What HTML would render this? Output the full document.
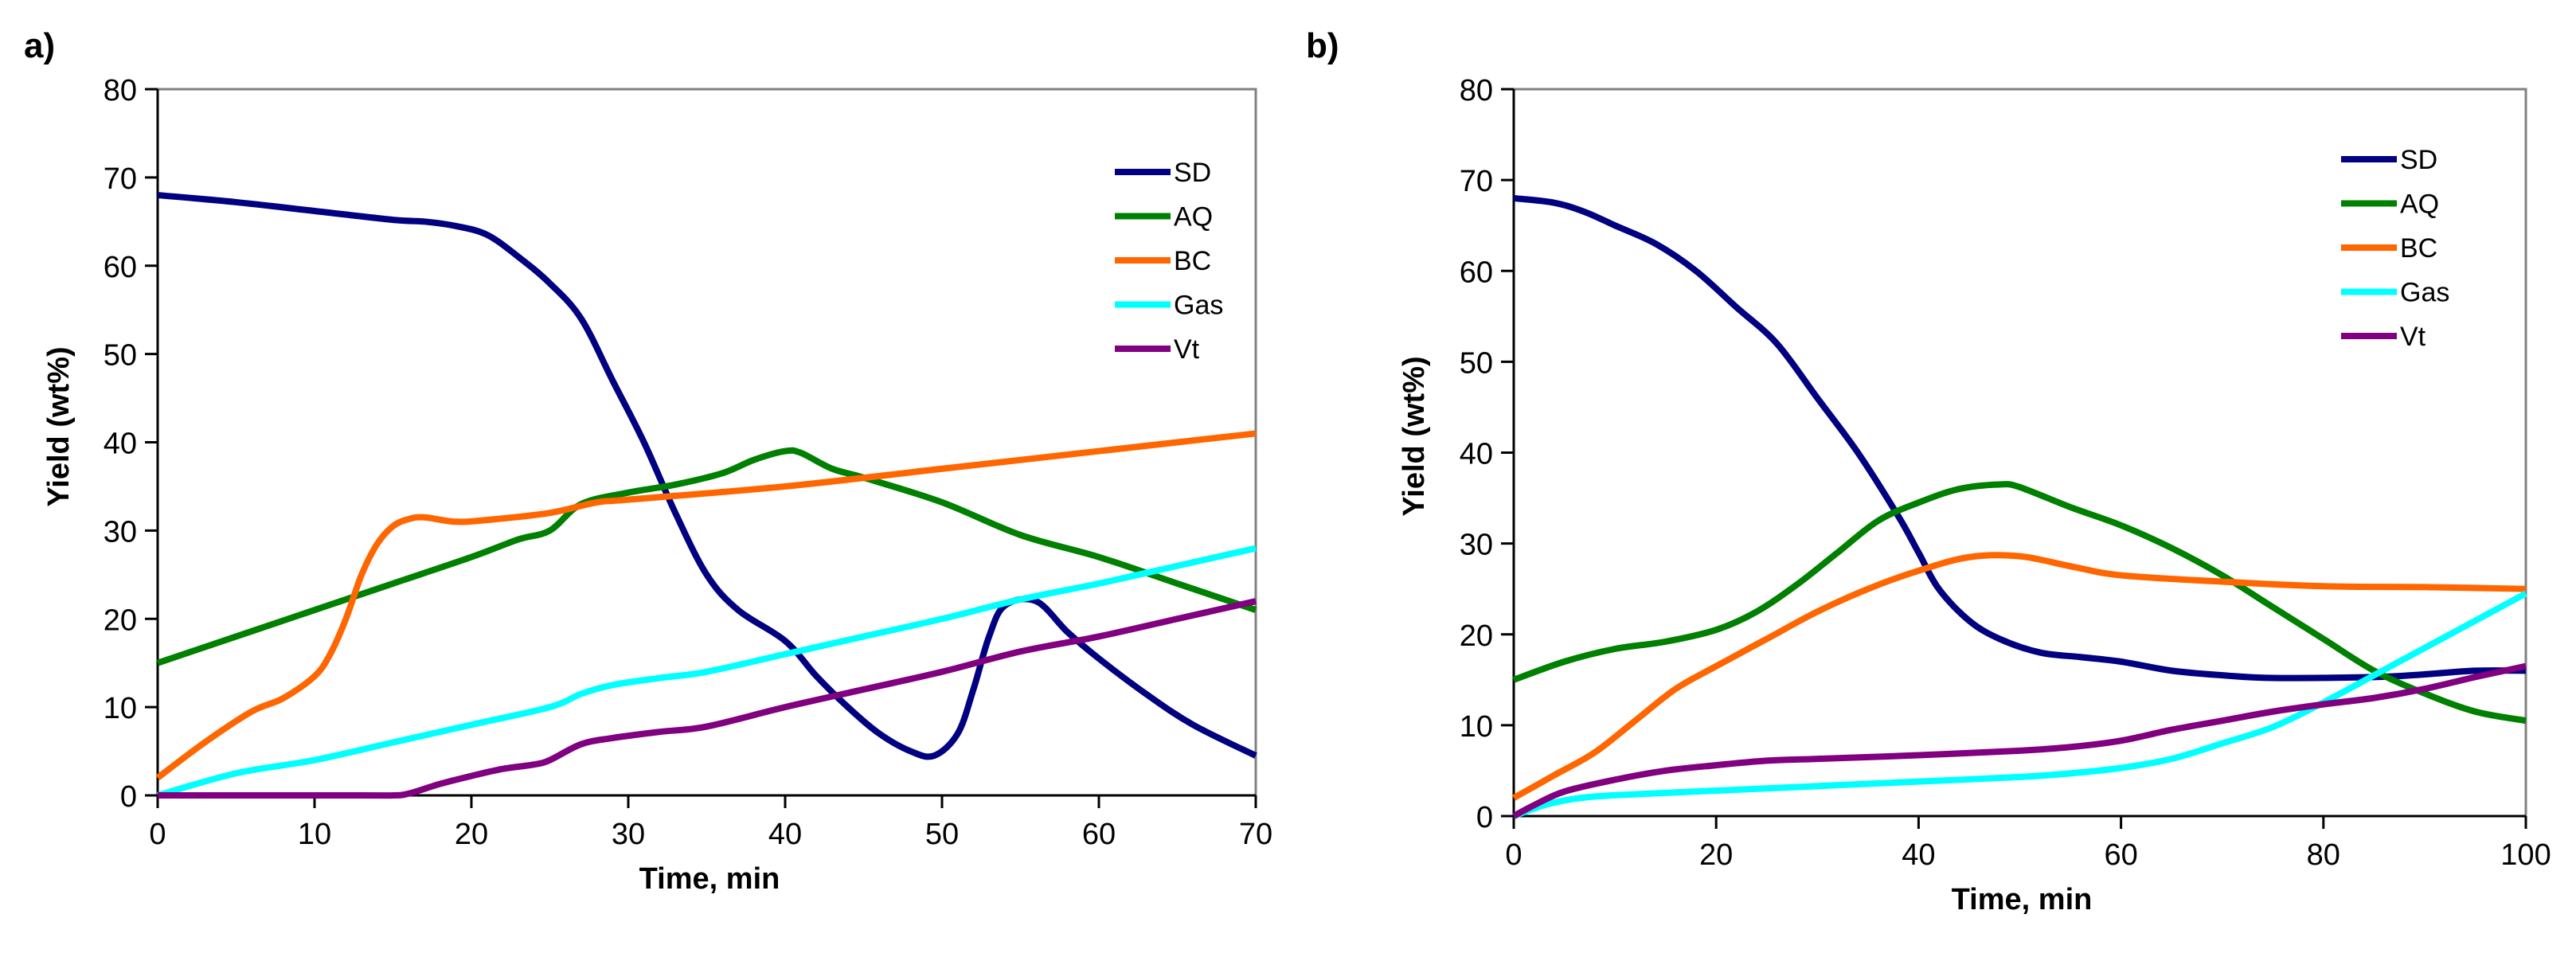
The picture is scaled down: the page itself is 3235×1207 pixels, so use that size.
<!DOCTYPE html>
<html><head><meta charset="utf-8"><style>
html,body{margin:0;padding:0;background:#fff;}
svg{display:block;}
text{font-family:"Liberation Sans Narrow","Liberation Sans",sans-serif;fill:#000;}
.b{font-family:"Liberation Sans",sans-serif;font-weight:bold;}
</style></head><body>
<svg id="svg" width="3235" height="1207" xmlns="http://www.w3.org/2000/svg"></svg>
<script>
const seriesNames = ["SD","AQ","BC","Gas","Vt"];
const seriesColors = ["#000080","#008000","#FF6600","#00FFFF","#800080"];
const yTicks = [0,10,20,30,40,50,60,70,80];
const xTicksA = [0,10,20,30,40,50,60,70];
const xTicksB = [0,20,40,60,80,100];

const aSD_x = [0,5,10,15,17,19,21,23,25,27,29,31,33,35,37,40,42,44,46,48,49.5,51,52,53,54,56,58,60,63,66,70];
const aSD_y = [68,67.2,66.2,65.2,65,64.5,63.5,61,58,54,47,40,32,25,21,17.5,13.5,10,7,5,4.5,7,12,18,21.5,22,18.5,15.5,11.5,8,4.5];
const aAQ_x = [0,5,10,15,20,23,25,27,30,33,36,38,40,41,43,45,50,55,60,65,70];
const aAQ_y = [15,18,21,24,27,29,30,33,34.3,35.2,36.5,38,39,38.8,37,36,33.2,29.5,27,24,21];
const aBC_x = [0,3,6,8,10,11,12,13,14,15,16,17,19,21,25,28,30,40,50,60,70];
const aBC_y = [2,6,9.5,11,13.5,16,20,25,28.5,30.5,31.3,31.5,31,31.2,32,33.2,33.5,35,37,39,41];
const aGas_x = [0,5,10,15,20,25,27,29,32,35,40,45,50,55,60,65,70];
const aGas_y = [0,2.5,4,6,8,10,11.5,12.5,13.3,14,16,18,20,22.2,24,26,28];
const aVt_x = [0,13,15,16,18,20,22,24,25,27,29,32,35,40,45,50,55,60,65,70];
const aVt_y = [0,0,0,0.2,1.3,2.2,3,3.5,4,5.8,6.5,7.2,7.8,10,12,14,16.3,18,20,22];

const bSD_x = [0,4,7,10,14,18,22,26,30,34,38,40,42,45,48,52,56,60,65,70,75,85,90,95,100];
const bSD_y = [68,67.5,66.5,65,63,60,56,52,46,40,33,29,25,21.5,19.5,18,17.5,17,16,15.5,15.2,15.3,15.6,16,16];
const bAQ_x = [0,5,10,15,20,24,28,32,36,40,44,48,50,55,60,65,70,75,80,85,90,95,100];
const bAQ_y = [15,17,18.4,19.2,20.5,22.5,25.5,29,32.5,34.5,36,36.5,36.2,34,32,29.5,26.5,23,19.5,16,13.5,11.5,10.5];
const bBC_x = [0,4,8,12,16,20,25,30,35,40,45,50,55,60,70,80,90,100];
const bBC_y = [2,4.5,7,10.5,14,16.5,19.5,22.5,25,27,28.5,28.6,27.5,26.5,25.8,25.3,25.2,25];
const bGas_x = [0,3,6,10,20,30,40,50,55,60,65,70,75,80,85,90,95,100];
const bGas_y = [0,1.2,1.9,2.3,2.8,3.3,3.8,4.3,4.7,5.3,6.3,8,9.8,12.5,15.5,18.5,21.5,24.5];
const bVt_x = [0,2,5,10,15,20,25,30,40,50,55,60,65,70,75,80,85,90,95,100];
const bVt_y = [0,1.2,2.7,4,5,5.6,6.1,6.3,6.7,7.2,7.6,8.3,9.5,10.5,11.5,12.3,13,14,15.3,16.5];

const NS="http://www.w3.org/2000/svg";
const svg=document.getElementById('svg');
function mk(tag,attrs,parent){const e=document.createElementNS(NS,tag);for(const k in attrs)e.setAttribute(k,attrs[k]);(parent||svg).appendChild(e);return e;}
function txt(s,attrs,parent){const e=mk('text',attrs,parent);e.textContent=s;return e;}
function smooth(pts){let d='M'+pts[0][0]+','+pts[0][1];for(let i=0;i<pts.length-1;i++){const p0=pts[Math.max(0,i-1)],p1=pts[i],p2=pts[i+1],p3=pts[Math.min(pts.length-1,i+2)];const c1x=p1[0]+(p2[0]-p0[0])/6,c1y=p1[1]+(p2[1]-p0[1])/6,c2x=p2[0]-(p3[0]-p1[0])/6,c2y=p2[1]-(p3[1]-p1[1])/6;d+=' C'+c1x+','+c1y+' '+c2x+','+c2y+' '+p2[0]+','+p2[1];}return d;}

function chart(cfg){
  const g=mk('g',{});
  
  
  const {L,R,T,B,xmax,xt}=cfg;
  const sx=v=>L+(R-L)*v/xmax, sy=v=>B-(B-T)*v/80;
  const pb=mk('path',{d:`M${L},${T} H${R} V${B}`,fill:'none',stroke:'#808080','stroke-width':3},g);
  
  
  const ya=mk('line',{x1:L,y1:T,x2:L,y2:B+16,stroke:'#000','stroke-width':3},g);
  
  
  const xa=mk('line',{x1:L-16,y1:B,x2:R,y2:B,stroke:'#000','stroke-width':3},g);
  
  
  yTicks.forEach(v=>{
    mk('line',{x1:L-16,y1:sy(v),x2:L,y2:sy(v),stroke:'#000','stroke-width':3},g);
    const t=txt(String(v),{x:L-26,y:sy(v)+14,'font-size':38,'text-anchor':'end'},g);
    
    
  });
  xt.forEach(v=>{
    mk('line',{x1:sx(v),y1:B,x2:sx(v),y2:B+16,stroke:'#000','stroke-width':3},g);
    const t=txt(String(v),{x:sx(v),y:B+61,'font-size':38,'text-anchor':'middle'},g);
    
    
  });
  cfg.series.forEach((s,i)=>{
    const pts=s[0].map((x,j)=>[sx(x),sy(s[1][j])]);
    const p=mk('path',{d:smooth(pts),fill:'none',stroke:seriesColors[i],'stroke-width':8,'stroke-linejoin':'round'},g);
    
    
  });
  seriesNames.forEach((n,i)=>{
    const y=cfg.legY+i*cfg.legDy;
    const lg=mk('g',{},g);
    
    
    mk('line',{x1:cfg.legX,y1:y,x2:cfg.legX+70,y2:y,stroke:seriesColors[i],'stroke-width':8},lg);
    txt(n,{x:cfg.legX+74,y:y+12,'font-size':34},lg);
  });
  const yt=txt('Yield (wt%)',{x:0,y:0,'font-size':38,'text-anchor':'middle',class:'b',transform:`translate(${cfg.ytX},${cfg.ytY}) rotate(-90)`},g);
  
  
  const xtt=txt('Time, min',{x:cfg.xtX,y:cfg.xtY,'font-size':38,'text-anchor':'middle',class:'b'},g);
  
  
  const pl=txt(cfg.label,{x:cfg.labX,y:72,'font-size':44,class:'b','font-weight':'normal'},g);
  
  
}
chart({name:'chart-a',label:'a)',labX:30,L:198,R:1577,T:112,B:999,xmax:70,xt:xTicksA,
  series:[[aSD_x,aSD_y],[aAQ_x,aAQ_y],[aBC_x,aBC_y],[aGas_x,aGas_y],[aVt_x,aVt_y]],
  legX:1400,legY:216,legDy:55.5,ytX:86,ytY:536,xtX:891,xtY:1116});
chart({name:'chart-b',label:'b)',labX:1640,L:1901,R:3172,T:112,B:1025,xmax:100,xt:xTicksB,
  series:[[bSD_x,bSD_y],[bAQ_x,bAQ_y],[bBC_x,bBC_y],[bGas_x,bGas_y],[bVt_x,bVt_y]],
  legX:2940,legY:200,legDy:55.5,ytX:1788,ytY:548,xtX:2539,xtY:1142});
</script>
</body></html>
